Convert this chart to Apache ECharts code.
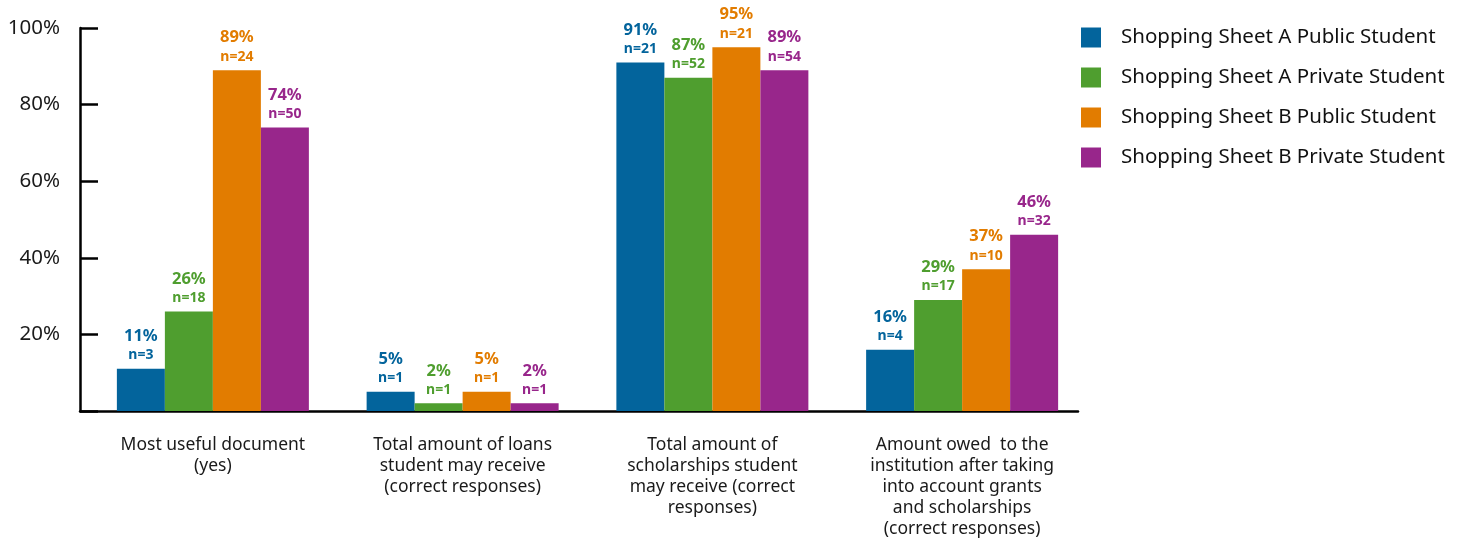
<!DOCTYPE html>
<html>
<head>
<meta charset="utf-8">
<script src="https://cdn.jsdelivr.net/npm/echarts@6/dist/echarts.min.js"></script>
<style>html,body{margin:0;padding:0;background:#fff}#c{width:1468px;height:540px}</style>
</head>
<body>
<div id="c"></div>
<script>
const categories = [
  "Most useful document\n(yes)",
  "Total amount of loans\nstudent may receive\n(correct responses)",
  "Total amount of\nscholarships student\nmay receive (correct\nresponses)",
  "Amount owed  to the\ninstitution after taking\ninto account grants\nand scholarships\n(correct responses)"
];
const seriesNames = [
  "Shopping Sheet A Public Student",
  "Shopping Sheet A Private Student",
  "Shopping Sheet B Public Student",
  "Shopping Sheet B Private Student"
];
const aPublic = [11, 5, 91, 16];
const aPrivate = [26, 2, 87, 29];
const bPublic = [89, 5, 95, 37];
const bPrivate = [74, 2, 89, 46];
const aPublicN = [3, 1, 21, 4];
const aPrivateN = [18, 1, 52, 17];
const bPublicN = [24, 1, 21, 10];
const bPrivateN = [50, 1, 54, 32];
const yTicks = [0, 20, 40, 60, 80, 100];

const colors = ["#03649c", "#4f9e2f", "#e27c00", "#98268b"];
const values = [aPublic, aPrivate, bPublic, bPrivate];
const ns = [aPublicN, aPrivateN, bPublicN, bPrivateN];
const FONT = "Noto Sans";

const chart = echarts.init(document.getElementById('c'), null, {renderer: 'canvas'});
const series = seriesNames.map((name, i) => ({
  name: name,
  type: 'bar',
  xAxisIndex: 1,
  yAxisIndex: 1,
  barWidth: 48,
  barGap: '0%',
  itemStyle: {color: colors[i]},
  data: values[i],
  label: {
    show: true,
    position: 'top',
    distance: 5,
    formatter: p => '{p|' + p.value + '%}\n{n|n=' + ns[i][p.dataIndex] + '}',
    rich: {
      p: {fontFamily: FONT, fontWeight: 'bold', fontSize: 16.5, lineHeight: 21, color: colors[i]},
      n: {fontFamily: FONT, fontWeight: 'bold', fontSize: 14, lineHeight: 17, color: colors[i]}
    }
  }
}));

chart.setOption({
  animation: false,
  textStyle: {fontFamily: FONT},
  legend: {
    orient: 'vertical',
    left: 1081,
    top: 27,
    padding: 0,
    itemWidth: 20,
    itemHeight: 20,
    itemGap: 19,
    icon: 'rect',
    data: seriesNames,
    textStyle: {fontFamily: FONT, fontSize: 20.5, lineHeight: 20, color: '#111', padding: [0, 0, 0, 15]}
  },
  grid: [
    {left: 80, right: 390, top: 28, bottom: 129},
    {left: 88, right: 381, top: 28, bottom: 129}
  ],
  xAxis: [
    {gridIndex: 0, type: 'category', data: categories, axisLine: {lineStyle: {color: '#000', width: 2.5}}, axisTick: {show: false}, axisLabel: {show: false}},
    {gridIndex: 1, type: 'category', data: categories, axisLine: {show: false}, axisTick: {show: false},
     axisLabel: {margin: 24, fontFamily: FONT, fontSize: 17.5, lineHeight: 21, color: '#1a1a1a', interval: 0}}
  ],
  yAxis: [
    {gridIndex: 0, type: 'value', min: yTicks[0], max: yTicks[yTicks.length - 1], interval: 20,
     axisLine: {show: true, lineStyle: {color: '#000', width: 2.5}},
     axisTick: {show: true, inside: true, length: 18, lineStyle: {color: '#000', width: 2.5}},
     splitLine: {show: false},
     axisLabel: {margin: 20, fontFamily: FONT, fontSize: 20.5, color: '#1a1a1a', formatter: v => v === 0 ? '' : v + '%'}},
    {gridIndex: 1, type: 'value', min: 0, max: 100, interval: 20, show: false, splitLine: {show: false}}
  ],
  series: series
});
</script>
</body>
</html>
